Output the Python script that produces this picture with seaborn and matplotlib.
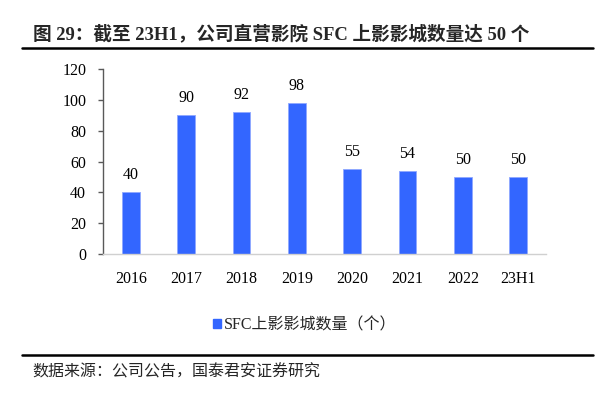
import matplotlib
matplotlib.use("Agg")
import matplotlib.pyplot as plt
import seaborn as sns
import pandas as pd
from matplotlib.lines import Line2D
from matplotlib.patches import Patch

categories = ["2016", "2017", "2018", "2019", "2020", "2021", "2022", "23H1"]
values = [40, 90, 92, 98, 55, 54, 50, 50]
series_name = "SFC上影影城数量（个）"
title = "图 29：截至 23H1，公司直营影院 SFC 上影影城数量达 50 个"
source = "数据来源：公司公告，国泰君安证券研究"
yticks = [0, 20, 40, 60, 80, 100, 120]

sns.set_theme(style="white")
plt.rcParams['font.family'] = ['Liberation Serif', 'Noto Sans CJK SC', 'DejaVu Sans']

df = pd.DataFrame({"cat": categories, "val": values})

fig = plt.figure(figsize=(6.09, 3.97), dpi=100)
ax = fig.add_axes([103 / 609, 1 - 254 / 397, 443 / 609, 185 / 397])
color = "#3366FF"
sns.barplot(data=df, x="cat", y="val", color=color, width=0.32, ax=ax, saturation=1,
            edgecolor="#8FA8FF", linewidth=0.6)

ax.set_ylim(0, 120)
ax.set_yticks(yticks)
ax.set_xlim(-0.5, len(categories) - 0.5)
ax.set_xlabel("")
ax.set_ylabel("")
for s in ["top", "right"]:
    ax.spines[s].set_visible(False)
ax.spines["left"].set_color("#595959")
ax.spines["left"].set_linewidth(1.0)
ax.spines["bottom"].set_color("#D0D0D0")
ax.spines["bottom"].set_linewidth(1.0)
ax.tick_params(axis="y", which="both", left=True, length=3.6, width=1.0, color="#595959", labelsize=11.5, pad=8.5)
ax.tick_params(axis="x", bottom=False, labelsize=11.5, pad=6)
for lbl in ax.get_xticklabels() + ax.get_yticklabels():
    lbl.set_color("black")

for i, v in enumerate(values):
    ax.text(i, v + 11, str(v), ha="center", va="center", fontsize=11.5, color="black")

# legend
handles = [Patch(facecolor=color, edgecolor=color, label=series_name)]
fig.legend(handles=handles, loc="center", bbox_to_anchor=(0.5, 1 - 325 / 397), frameon=False,
           handlelength=0.55, handleheight=0.55, handletextpad=0.15,
           prop={'family': ['Liberation Serif', 'Noto Sans CJK SC'], 'size': 11.5})

# title
fig.text(33 / 609, 1 - 34 / 397, title, ha="left", va="center", fontsize=13.4, fontweight="bold",
         family=['Liberation Serif', 'Noto Sans CJK SC'])
fig.add_artist(Line2D([22 / 609, 593 / 609], [1 - 48 / 397, 1 - 48 / 397], color="black", lw=1.8,
                      transform=fig.transFigure))
fig.add_artist(Line2D([22 / 609, 593 / 609], [1 - 355 / 397, 1 - 355 / 397], color="black", lw=1.8,
                      transform=fig.transFigure))
fig.text(32 / 609, 1 - 372 / 397, source, ha="left", va="center", fontsize=11.5,
         family=['Noto Sans CJK SC', 'DejaVu Sans'])

fig.savefig("out.png", dpi=100)
